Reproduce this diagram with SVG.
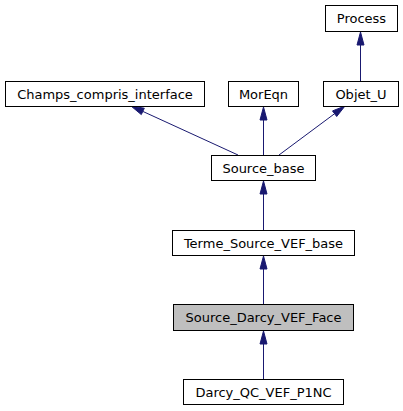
<svg xmlns="http://www.w3.org/2000/svg" width="403" height="411" viewBox="0 0 403 411">
<style>
.n rect{fill:#fff;stroke:#000;stroke-width:1}
.n.h rect{fill:#bfbfbf}
.n text{font-family:"DejaVu Sans",sans-serif;font-size:13px;text-anchor:middle;fill:#000}
.e path.l{fill:none;stroke:#191970;stroke-width:1}
.e path.a{fill:#191970;stroke:#191970;stroke-width:1}
</style>
<rect width="403" height="411" fill="#fff"/>
<g id="connectors" class="e">
<path class="l" d="M360.5,81V45"/>
<path class="a" d="M364,45L360.5,32L357,45Z"/>
<path class="l" d="M238,155L142.8,111.4"/>
<path class="a" d="M144.3,108.2L131,106L141.3,114.6Z"/>
<path class="l" d="M263.5,155V120"/>
<path class="a" d="M267,120L263.5,107L260,120Z"/>
<path class="l" d="M279,155L334.6,113.7"/>
<path class="a" d="M336.7,116.5L345,106L332.5,110.9Z"/>
<path class="l" d="M263.5,230V194"/>
<path class="a" d="M267,194L263.5,181L260,194Z"/>
<path class="l" d="M263.5,304V269"/>
<path class="a" d="M267,269L263.5,256L260,269Z"/>
<path class="l" d="M263.5,379V344"/>
<path class="a" d="M267,344L263.5,331L260,344Z"/>
</g>
<g id="Process" class="n"><rect x="325.5" y="5.5" width="72" height="26"/><text x="361.5" y="23">Process</text></g>
<g id="Champs_compris_interface" class="n"><rect x="5.5" y="81.5" width="199" height="25"/><text x="105" y="98.5">Champs_compris_interface</text></g>
<g id="MorEqn" class="n"><rect x="228.5" y="81.5" width="70" height="25"/><text x="263.5" y="98.5">MorEqn</text></g>
<g id="Objet_U" class="n"><rect x="323.5" y="81.5" width="75" height="25"/><text x="361" y="98.5">Objet_U</text></g>
<g id="Source_base" class="n"><rect x="211.5" y="155.5" width="104" height="25"/><text x="263.5" y="172.5">Source_base</text></g>
<g id="Terme_Source_VEF_base" class="n"><rect x="172.5" y="230.5" width="182" height="25"/><text x="263.5" y="247.5">Terme_Source_VEF_base</text></g>
<g id="Source_Darcy_VEF_Face" class="n h"><rect x="173.5" y="304.5" width="180" height="26"/><text x="263.5" y="322">Source_Darcy_VEF_Face</text></g>
<g id="Darcy_QC_VEF_P1NC" class="n"><rect x="183.5" y="379.5" width="160" height="25"/><text x="263.5" y="396.5">Darcy_QC_VEF_P1NC</text></g>
</svg>
